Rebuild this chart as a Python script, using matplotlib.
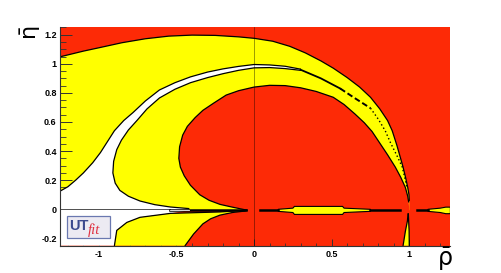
import matplotlib
matplotlib.use("Agg")
import matplotlib.pyplot as plt
from matplotlib.patches import Rectangle
from matplotlib.ticker import MultipleLocator, FormatStrFormatter

plt.rcParams["mathtext.fontset"] = "dejavusans"

# ---------------- data (boundaries, in (rho, eta)) ----------------
outer_rho = [-1.25, -1.1, -1.0, -0.85, -0.7, -0.55, -0.4, -0.25, -0.1, 0.0, 0.12, 0.23, 0.33,
             0.43, 0.51, 0.6, 0.68, 0.75, 0.81, 0.86, 0.89, 0.92, 0.96, 0.978, 0.99, 0.998, 1.0]
outer_eta = [1.048, 1.087, 1.11, 1.145, 1.172, 1.19, 1.197, 1.195, 1.185, 1.175, 1.155, 1.12, 1.075,
             1.02, 0.97, 0.905, 0.84, 0.77, 0.69, 0.61, 0.54, 0.44, 0.29, 0.21, 0.15, 0.1, 0.06]

disc_rho = [-0.05, -0.14, -0.22, -0.29, -0.35, -0.41, -0.45, -0.475, -0.485, -0.48, -0.46, -0.43,
            -0.38, -0.33, -0.26, -0.18, -0.1, 0.0, 0.1, 0.2, 0.3, 0.4, 0.51, 0.58, 0.65, 0.71,
            0.76, 0.81, 0.86, 0.91, 0.945, 0.975, 0.99, 0.996]
disc_eta = [-0.005, 0.015, 0.034, 0.062, 0.1, 0.165, 0.23, 0.29, 0.35, 0.43, 0.51, 0.57,
            0.63, 0.68, 0.73, 0.785, 0.815, 0.84, 0.852, 0.85, 0.835, 0.81, 0.77, 0.72, 0.655, 0.595,
            0.535, 0.455, 0.375, 0.29, 0.22, 0.15, 0.09, 0.05]

white_out_rho = [-1.25, -1.2, -1.15, -1.1, -1.04, -0.99, -0.945, -0.9, -0.84, -0.78, -0.7, -0.61,
                 -0.51, -0.41, -0.3, -0.2, -0.1, 0.0, 0.1, 0.2, 0.3]
white_out_eta = [0.125, 0.155, 0.2, 0.25, 0.32, 0.39, 0.465, 0.54, 0.61, 0.665, 0.745, 0.82,
                 0.87, 0.91, 0.943, 0.965, 0.982, 0.995, 0.992, 0.983, 0.963]
white_in_rho = [0.3, 0.2, 0.1, 0.0, -0.1, -0.2, -0.3, -0.41, -0.51, -0.61, -0.69, -0.755, -0.81,
                -0.855, -0.885, -0.905, -0.91, -0.895, -0.865, -0.81, -0.735, -0.64, -0.54, -0.42]
white_in_eta = [0.955, 0.967, 0.974, 0.972, 0.955, 0.932, 0.905, 0.87, 0.825, 0.765, 0.69, 0.61, 0.545,
                0.475, 0.41, 0.33, 0.25, 0.18, 0.13, 0.09, 0.057, 0.032, 0.016, 0.005]

low_top_rho = [-0.9, -0.885, -0.82, -0.735, -0.54, -0.22, -0.045]
low_top_eta = [-0.25, -0.145, -0.09, -0.055, -0.028, -0.018, -0.006]
low_bot_rho = [-0.045, -0.06, -0.14, -0.22, -0.28, -0.33, -0.39, -0.445]
low_bot_eta = [-0.006, -0.012, -0.022, -0.04, -0.065, -0.1, -0.17, -0.25]

sliver_rho = [0.994, 0.996, 0.999, 1.0, 0.992, 0.96, 0.975, 0.988, 0.992]
sliver_eta = [-0.03, -0.08, -0.15, -0.25, -0.25, -0.25, -0.15, -0.08, -0.03]

solid_rho = [0.3, 0.43, 0.555]
solid_eta = [0.959, 0.90, 0.83]
dash_rho = [0.555, 0.64, 0.75]
dash_eta = [0.83, 0.77, 0.695]
dot_rho = [0.75, 0.8, 0.845, 0.88, 0.92, 0.955, 0.975, 0.985]
dot_eta = [0.695, 0.62, 0.54, 0.455, 0.37, 0.29, 0.2, 0.15]

band1_rho = [0.155, 0.25, 0.26, 0.57, 0.58, 0.75, 0.75, 0.58, 0.57, 0.26, 0.25, 0.155]
band1_eta = [0.0, 0.008, 0.02, 0.02, 0.008, 0.0, -0.014, -0.022, -0.035, -0.035, -0.022, -0.014]
band2_rho = [1.12, 1.2, 1.235, 1.265, 1.265, 1.235, 1.2, 1.12]
band2_eta = [0.0, 0.008, 0.015, 0.015, -0.03, -0.03, -0.022, -0.014]

line_segs = [(-0.54, -0.05), (0.04, 0.155), (0.75, 0.94), (1.05, 1.12)]
axis_eta = -0.007

xticks = [-1, -0.5, 0, 0.5, 1]
yticks = [-0.2, 0, 0.2, 0.4, 0.6, 0.8, 1, 1.2]

RED = "#fd2a06"
YEL = "#ffff00"

# ---------------- figure ----------------
fig = plt.figure(figsize=(5.01, 2.73), dpi=100)
ax = fig.add_axes([60.1 / 501, 1 - 245.7 / 273, 390.3 / 501, 218.3 / 273])
ax.set_facecolor(RED)
ax.set_xlim(-1.25, 1.265)
ax.set_ylim(-0.25, 1.25)

# upper yellow band
ax.fill(outer_rho + [1.0, -1.25], outer_eta + [axis_eta, axis_eta], color=YEL, lw=0, zorder=1)
# white crescent + lower-left white
w_rho = [-1.25, -0.9] + low_top_rho[1:5] + [-0.42] + white_in_rho[::-1] + white_out_rho[::-1]
w_eta = [-0.25, -0.25] + low_top_eta[1:5] + [-0.006] + white_in_eta[::-1] + white_out_eta[::-1]
ax.fill(w_rho, w_eta, color="white", lw=0, zorder=2)
# inner red disc
ax.fill(disc_rho + [1.0, 1.0, -0.05], disc_eta + [0.0, -0.012, -0.012], color=RED, lw=0, zorder=3)
# lower yellow
ax.fill(low_top_rho + low_bot_rho, low_top_eta + low_bot_eta, color=YEL, lw=0, zorder=3)
ax.fill(sliver_rho, sliver_eta, color=YEL, lw=0, zorder=3)
ax.fill(band1_rho, band1_eta, color=YEL, ec="black", lw=0.8, zorder=4)
ax.fill(band2_rho, band2_eta, color=YEL, ec="black", lw=0.8, zorder=4)

lk = dict(color="black", lw=0.9, zorder=5, solid_capstyle="round")
ax.plot(outer_rho, outer_eta, **lk)
ax.plot(disc_rho, disc_eta, **lk)
ax.plot(white_out_rho, white_out_eta, **lk)
ax.plot(white_in_rho, white_in_eta, **lk)
ax.plot(low_top_rho, low_top_eta, **lk)
ax.plot(low_bot_rho, low_bot_eta, **lk)
ax.plot(sliver_rho[:4], sliver_eta[:4], **lk)
ax.plot(sliver_rho[5:], sliver_eta[5:], **lk)
ax.plot(solid_rho, solid_eta, color="black", lw=1.3, zorder=5)
ax.plot(dash_rho, dash_eta, color="black", lw=1.4, ls=(0, (3, 1.5)), zorder=5)
ax.plot(dot_rho, dot_eta, color="black", lw=1.0, ls=(0, (1, 1.8)), zorder=5)
for a, b in line_segs:
    ax.plot([a, b], [axis_eta, axis_eta], color="black", lw=1.8, zorder=5)
ax.plot([-0.54, -0.42], [axis_eta, axis_eta], color="white", lw=0.6, zorder=5)

# axis lines inside the frame
ax.plot([0, 0], [-0.25, 1.25], color="black", lw=0.5, alpha=0.55, zorder=6)
ax.plot([-1.25, -0.54], [0, 0], color="black", lw=0.6, alpha=0.8, zorder=6)

# ticks / frame (ROOT style)
for s in ["top", "right"]:
    ax.spines[s].set_visible(False)
for s in ["left", "bottom"]:
    ax.spines[s].set_color("#333333")
    ax.spines[s].set_linewidth(0.8)
    ax.spines[s].set_zorder(8)
ax.set_xticks(xticks)
ax.set_yticks(yticks)
ax.xaxis.set_minor_locator(MultipleLocator(0.1))
ax.yaxis.set_minor_locator(MultipleLocator(0.05))
ax.xaxis.set_major_formatter(FormatStrFormatter("%g"))
ax.yaxis.set_major_formatter(FormatStrFormatter("%g"))
ax.tick_params(axis="x", which="major", direction="in", length=4.7, width=0.7, pad=3,
               labelsize=6.5, color="#333333")
ax.tick_params(axis="x", which="minor", direction="in", length=2.4, width=0.6, color="#333333")
ax.tick_params(axis="y", which="major", direction="in", length=8.4, width=0.7, pad=2.5,
               labelsize=6.5, color="#333333")
ax.tick_params(axis="y", which="minor", direction="in", length=4.2, width=0.6, color="#333333")
for lab in ax.get_xticklabels() + ax.get_yticklabels():
    lab.set_fontfamily("Liberation Sans")
    lab.set_fontweight("bold")

# axis titles
fig.text(31 / 501, 1 - 33 / 273, r"$\bar{\mathrm{\eta}}$", rotation=90, ha="center", va="center",
         fontsize=16)
fig.text(445 / 501, 1 - 259 / 273, r"$\bar{\mathrm{\rho}}$", ha="center", va="center", fontsize=17)

# UTfit logo
ax.add_patch(Rectangle((-1.2075, -0.199), 0.279, 0.153, facecolor="#eceaf2", edgecolor="#6a78b0",
                       lw=0.9, zorder=9))
ax.text(-1.195, -0.145, "UT", color="#3c4a8e", fontsize=10.5, fontweight="bold",
        family="Liberation Sans", zorder=10)
ax.text(-1.07, -0.168, "fit", color="#e03040", fontsize=10.5, style="italic",
        family="Liberation Serif", zorder=10)

fig.savefig("out.png", dpi=100)
